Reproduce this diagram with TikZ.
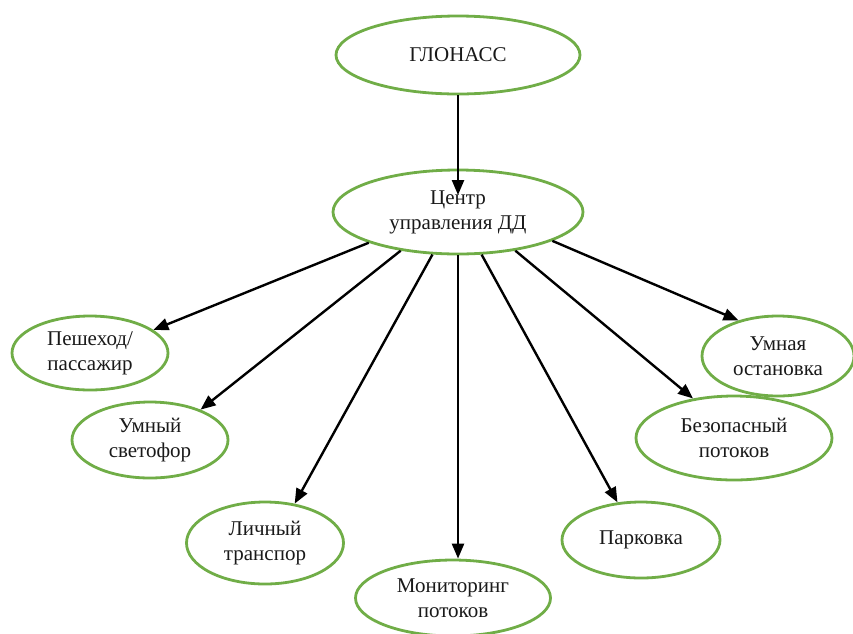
\documentclass[tikz,border=0pt]{standalone}
\usepackage{fontspec}
\setmainfont{Liberation Serif}
\usetikzlibrary{arrows.meta,shapes.geometric}
\definecolor{eg}{RGB}{112,173,71}
\begin{document}
\begin{tikzpicture}[x=1pt,y=-1pt,
  el/.style={ellipse,draw=eg,line width=2.8pt,inner sep=0pt,align=center,
    text=black!90,font=\fontsize{21}{25}\selectfont},
  arr/.style={line width=2.4pt,-{Triangle[length=15pt,width=12pt]}}]
\useasboundingbox (0,0) rectangle (853,633);
\node[el,minimum width=244pt,minimum height=78pt] (g) at (458,55) {ГЛОНАСС};
\node[el,minimum width=250pt,minimum height=84pt] (c) at (458,212) {Центр\\управления ДД};
\node[el,minimum width=156pt,minimum height=74pt] (p) at (90,353) {Пешеход/\\пассажир};
\node[el,minimum width=156pt,minimum height=76pt] (s) at (150,440) {Умный\\светофор};
\node[el,minimum width=157pt,minimum height=82pt] (l) at (265,543) {Личный\\транспор};
\node[el,minimum width=195pt,minimum height=76pt] (m) at (453,598) {Мониторинг\\потоков};
\node[el,minimum width=158pt,minimum height=76pt] (k) at (641,540) {Парковка};
\node[el,minimum width=196pt,minimum height=84pt] (b) at (734,438) {Безопасный\\потоков};
\node[el,minimum width=152pt,minimum height=80pt] (o) at (778,356) {Умная\\остановка};
\draw[arr,shorten >=17pt] (g.south) -- (c.center);
\draw[arr] (c.-161) -- (p.20);
\draw[arr] (c.-146) -- (s.31);
\draw[arr] (c.-121) -- (l.53);
\draw[arr] (c.south) -- (c.south |- m.north);
\draw[arr] (c.-61) -- (k.122);
\draw[arr] (c.-34) -- (b.136);
\draw[arr] (c.-17) -- (o.138);
\end{tikzpicture}
\end{document}
